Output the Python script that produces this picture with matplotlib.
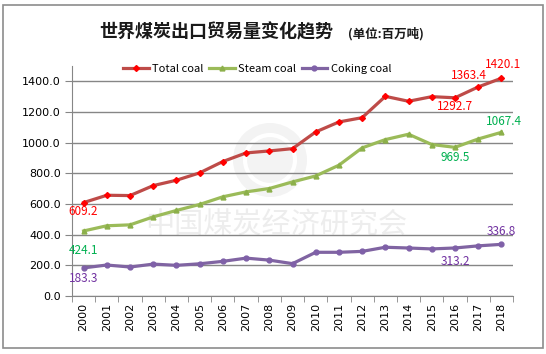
import matplotlib
matplotlib.use('Agg')
import matplotlib.pyplot as plt
from matplotlib.patches import Rectangle, Circle

plt.rcParams['font.family'] = ['Noto Sans CJK SC', 'DejaVu Sans']

years = [str(y) for y in range(2000, 2019)]
total_coal = [609.2, 657, 655, 720, 755, 803, 877, 933, 946, 961, 1070, 1135, 1163,
              1302, 1270, 1300, 1292.7, 1363.4, 1420.1]
steam_coal = [424.1, 458, 464, 516, 558, 597, 647, 679, 701, 744, 783, 853, 966,
              1020, 1055, 988, 969.5, 1024, 1067.4]
coking_coal = [183.3, 202, 189, 208, 200, 210, 226, 247, 234, 211, 285, 285, 291,
               318, 313, 307, 313.2, 327, 336.8]
yticks = [0, 200, 400, 600, 800, 1000, 1200, 1400]

fig = plt.figure(figsize=(5.46, 3.54), dpi=100)
fig.patches.append(Rectangle((3 / 546, 1 - 348 / 354), 540 / 546, 343 / 354,
                             transform=fig.transFigure, fill=False,
                             edgecolor='#8c8c8c', linewidth=1.2))
ax = fig.add_axes([72 / 546, 1 - 296 / 354, 441 / 546, 230 / 354])

# faint watermark (logo + text), logo placed in inches so it stays round
logo = (2.70, 1.94)
ax.add_patch(Circle(logo, 0.37, transform=fig.dpi_scale_trans,
                    facecolor='#f3f3f3', edgecolor='none', zorder=0))
ax.add_patch(Circle(logo, 0.25, transform=fig.dpi_scale_trans,
                    fill=False, edgecolor='white', linewidth=3, zorder=0))
ax.text(8.3, 460, '中国煤炭经济研究会', ha='center', va='center', fontsize=21,
        color='#ededed', zorder=0)

x = list(range(len(years)))
ax.plot(x, total_coal, color='#BE4B48', linewidth=2.3, marker='D', markersize=3,
        markerfacecolor='#FF0000', markeredgecolor='#FF0000', label='Total coal', zorder=3)
ax.plot(x, steam_coal, color='#9BBB59', linewidth=2.3, marker='^', markersize=3.5,
        markerfacecolor='#8CB04A', markeredgecolor='#8CB04A', label='Steam coal', zorder=3)
ax.plot(x, coking_coal, color='#8064A2', linewidth=2.3, marker='o', markersize=3.5,
        markerfacecolor='#7F60A8', markeredgecolor='#7F60A8', label='Coking coal', zorder=3)

# data labels, offsets in pixels
def label(i, series, color, dx, dy):
    ax.annotate('%.1f' % series[i], (i, series[i]), xytext=(dx * 0.72, dy * 0.72),
                textcoords='offset points', ha='center', va='center',
                fontsize=8.5, color=color)

label(0, total_coal, '#FF0000', 0, -9)
label(0, steam_coal, '#00B050', 0, -20)
label(0, coking_coal, '#7030A0', 0, -11)
label(16, total_coal, '#FF0000', 0, -9)
label(17, total_coal, '#FF0000', -9, 11)
label(18, total_coal, '#FF0000', 2, 14)
label(16, steam_coal, '#00B050', 0, -10)
label(18, steam_coal, '#00B050', 3, 11)
label(16, coking_coal, '#7030A0', 0, -14)
label(18, coking_coal, '#7030A0', 0, 13)

ax.set_xlim(-0.5, len(years) - 0.5)
ax.set_ylim(0, 1500)
ax.set_yticks(yticks)
ax.set_yticklabels(['%.1f' % v for v in yticks], fontsize=8, family='DejaVu Sans')
ax.set_xticks(x)
ax.set_xticklabels(years, rotation=90, fontsize=8, family='DejaVu Sans')
ax.set_xticks([i - 0.5 for i in range(len(years) + 1)], minor=True)
ax.tick_params(axis='x', which='major', length=0, pad=5)
ax.tick_params(axis='x', which='minor', length=4, color='#868686')
ax.tick_params(axis='y', length=5, color='#868686', pad=3)
ax.grid(axis='y', color='#868686', linewidth=1)
ax.set_axisbelow(True)
for s in ['top', 'right']:
    ax.spines[s].set_visible(False)
for s in ['left', 'bottom']:
    ax.spines[s].set_color('#868686')

ax.legend(loc='center', bbox_to_anchor=(0.42, 0.987), ncol=3, frameon=False,
          fontsize=8, handlelength=2.3, handletextpad=0.3, columnspacing=0.5)

fig.text(216 / 546, 1 - 32 / 354, '世界煤炭出口贸易量变化趋势', ha='center', va='center',
         fontsize=13, fontweight='bold', color='#1a1a1a')
fig.text(386 / 546, 1 - 34 / 354, '(单位:百万吨)', ha='center', va='center',
         fontsize=9, fontweight='bold', color='#1a1a1a')

fig.savefig('out.png', dpi=100)
